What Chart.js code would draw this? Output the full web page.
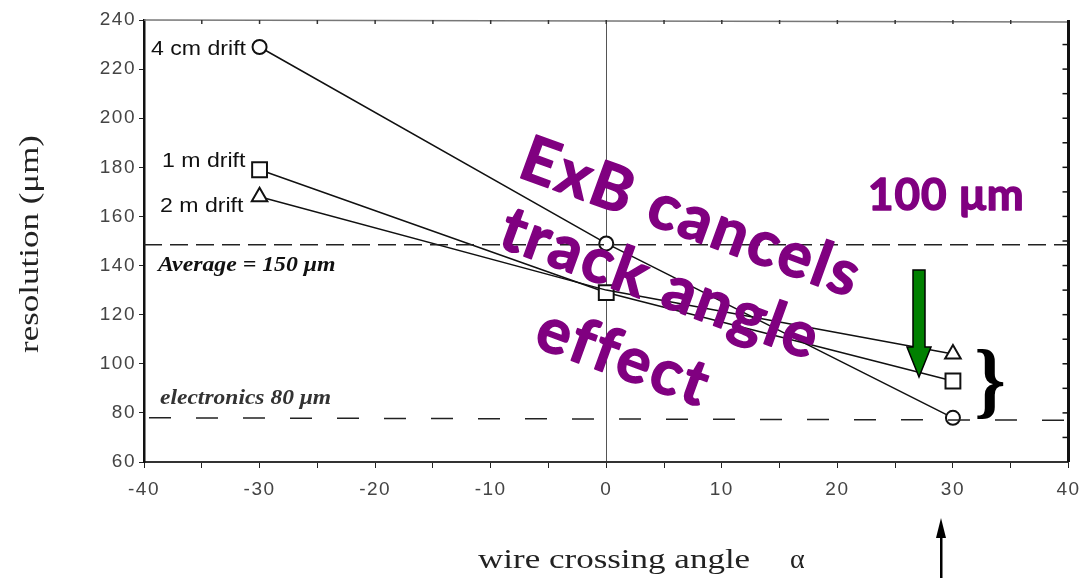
<!DOCTYPE html>
<html>
<head>
<meta charset="utf-8">
<script src="https://cdn.jsdelivr.net/npm/chart.js@4"></script>
<style>
  body { margin: 0; background: #fff; }
  #chart { display: block; }
</style>
</head>
<body>
<canvas id="chart" width="1081" height="578"></canvas>
<script>
// wire crossing angle (deg)
const angles = [-30, 0, 30];
// resolution (um) per drift distance
const res4cm = [229, 149, 78];
const res1m = [179, 129, 93];
const res2m = [168, 130, 104];
const seriesNames = ['4 cm drift', '1 m drift', '2 m drift'];

// reference levels
const averageLevel = 148.5;
const electronicsLevel = [78, 77];
const levelRange = [-40, 40];

const xTicksLabelled = [-40, -30, -20, -10, 0, 10, 20, 30, 40];
const yTicksLabelled = [60, 80, 100, 120, 140, 160, 180, 200, 220, 240];

const toPoints = (xs, ys) => xs.map((x, i) => ({ x: x, y: ys[i] }));

// wide stretched text, the scanned figure has loose lettering
function stretchedText(ctx, text, x, y, sx) {
    ctx.save();
    ctx.translate(x, y);
    ctx.scale(sx, 1);
    ctx.fillText(text, 0, 0);
    ctx.restore();
}

const spacing = {
    id: 'spacing',
    beforeDraw(chart) { chart.ctx.letterSpacing = '1.5px'; },
    afterDatasetsDraw(chart) { chart.ctx.letterSpacing = '0px'; }
};

const annotations = {
    id: 'annotations',
    afterDraw(chart) {
        const ctx = chart.ctx;
        const xs = chart.scales.x, ys = chart.scales.y;
        const area = chart.chartArea;
        ctx.save();
        ctx.letterSpacing = '0px';

        // frame: top and right
        ctx.strokeStyle = '#777';
        ctx.lineWidth = 1.5;
        ctx.beginPath();
        ctx.moveTo(area.left, area.top);
        ctx.lineTo(area.right, area.top + 2);
        ctx.stroke();
        ctx.strokeStyle = '#111';
        ctx.lineWidth = 3;
        ctx.beginPath();
        ctx.moveTo(area.right, area.top);
        ctx.lineTo(area.right, area.bottom);
        ctx.stroke();
        ctx.lineWidth = 1.5;
        for (let v = 70; v < 240; v += 10) {
            const py = ys.getPixelForValue(v);
            ctx.beginPath();
            ctx.moveTo(area.right, py);
            ctx.lineTo(area.right - 6, py);
            ctx.stroke();
        }
        ctx.strokeStyle = '#333';
        for (let v = -35; v < 40; v += 5) {
            const px = xs.getPixelForValue(v);
            ctx.beginPath();
            ctx.moveTo(px, area.top);
            ctx.lineTo(px, area.top + 4);
            ctx.stroke();
        }

        // series labels
        ctx.fillStyle = '#111';
        ctx.font = '21px "Liberation Sans", Arial, sans-serif';
        ctx.textBaseline = 'alphabetic';
        stretchedText(ctx, seriesNames[0], 151, 55, 1.1);
        stretchedText(ctx, seriesNames[1], 162, 167, 1.1);
        stretchedText(ctx, seriesNames[2], 160, 212, 1.1);

        // reference level labels
        ctx.font = 'italic bold 22px "Liberation Serif", serif';
        stretchedText(ctx, 'Average = 150 \u03bcm', 158, 271, 1.08);
        ctx.fillStyle = '#333';
        ctx.font = 'italic bold 21px "Liberation Serif", serif';
        stretchedText(ctx, 'electronics 80 \u03bcm', 160, 404, 1.12);

        // axis titles
        ctx.fillStyle = '#222';
        ctx.font = '28px "Liberation Serif", serif';
        stretchedText(ctx, 'wire crossing angle', 478, 568, 1.25);
        ctx.fillText('\u03b1', 790, 568);
        ctx.save();
        ctx.translate(38, 244);
        ctx.rotate(-Math.PI / 2);
        ctx.scale(1.25, 1);
        ctx.textAlign = 'center';
        ctx.fillText('resolution (\u03bcm)', 0, 0);
        ctx.restore();

        // bracket
        ctx.fillStyle = '#000';
        ctx.font = 'bold 80px "Liberation Serif", serif';
        ctx.save();
        ctx.translate(990, 386);
        ctx.scale(1, 1.05);
        ctx.textAlign = 'center';
        ctx.textBaseline = 'middle';
        ctx.fillText('}', 0, 0);
        ctx.restore();

        // green arrow
        ctx.fillStyle = '#008000';
        ctx.strokeStyle = '#000';
        ctx.lineWidth = 1.5;
        ctx.beginPath();
        ctx.moveTo(913, 270);
        ctx.lineTo(925, 270);
        ctx.lineTo(925, 347);
        ctx.lineTo(931, 347);
        ctx.lineTo(919, 377);
        ctx.lineTo(907, 347);
        ctx.lineTo(913, 347);
        ctx.closePath();
        ctx.fill();
        ctx.stroke();

        // black arrow under axis
        ctx.fillStyle = '#000';
        ctx.beginPath();
        ctx.moveTo(941, 518);
        ctx.lineTo(946, 538);
        ctx.lineTo(936, 538);
        ctx.closePath();
        ctx.fill();
        ctx.fillRect(940, 536, 2.5, 42);

        // purple hand annotations
        ctx.fillStyle = '#800080';
        ctx.strokeStyle = '#800080';
        ctx.lineJoin = 'round';
        ctx.lineWidth = 1.5;
        ctx.letterSpacing = '1px';
        ctx.font = 'bold 44px Lato, "DejaVu Sans", sans-serif';
        ctx.fillText('100 \u03bcm', 868, 210);
        ctx.strokeText('100 \u03bcm', 868, 210);
        ctx.font = 'bold 63px Lato, "DejaVu Sans", sans-serif';
        ctx.letterSpacing = '2.5px';
        const rot = 20 * Math.PI / 180;
        [['ExB cancels', 516, 176], ['track angle', 496, 246], ['effect', 532, 346]].forEach(([t, x, y]) => {
            ctx.save();
            ctx.translate(x, y);
            ctx.rotate(rot);
            ctx.fillText(t, 0, 0);
            ctx.strokeText(t, 0, 0);
            ctx.restore();
        });

        ctx.restore();
    }
};

const lineStyle = {
    borderColor: '#111',
    borderWidth: 1.5,
    pointBackgroundColor: '#fff',
    pointBorderColor: '#111',
    pointBorderWidth: 2,
    tension: 0,
    fill: false
};

new Chart(document.getElementById('chart'), {
    type: 'scatter',
    data: {
        datasets: [
            {
                label: 'Average',
                data: toPoints(levelRange, [averageLevel, averageLevel]),
                showLine: true,
                borderColor: '#222',
                borderWidth: 1.5,
                borderDash: [18, 8],
                pointRadius: 0
            },
            {
                label: 'electronics',
                data: toPoints(levelRange, electronicsLevel),
                showLine: true,
                borderColor: '#222',
                borderWidth: 1.5,
                borderDash: [22, 25],
                borderDashOffset: -5,
                pointRadius: 0
            },
            Object.assign({
                label: seriesNames[2],
                data: toPoints(angles, res2m),
                showLine: true,
                pointStyle: 'triangle',
                pointRadius: [9, 0, 9]
            }, lineStyle),
            Object.assign({
                label: seriesNames[1],
                data: toPoints(angles, res1m),
                showLine: true,
                pointStyle: 'rect',
                pointRadius: 10.5
            }, lineStyle),
            Object.assign({
                label: seriesNames[0],
                data: toPoints(angles, res4cm),
                showLine: true,
                pointStyle: 'circle',
                pointRadius: 7
            }, lineStyle)
        ]
    },
    options: {
        responsive: false,
        animation: false,
        devicePixelRatio: 1,
        layout: { padding: { top: 20, right: 9, left: 0, bottom: 0 } },
        plugins: {
            legend: { display: false },
            tooltip: { enabled: false }
        },
        scales: {
            x: {
                type: 'linear',
                min: -40,
                max: 40,
                afterFit: s => { s.height = 116; s.paddingRight = 0; s.paddingLeft = 0; },
                border: { display: true, color: '#333', width: 2 },
                grid: {
                    drawOnChartArea: true,
                    color: c => (c.tick && c.tick.value === 0) ? '#555' : 'rgba(0,0,0,0)',
                    lineWidth: 1,
                    tickColor: '#222',
                    tickLength: 6
                },
                ticks: {
                    stepSize: 5,
                    color: '#444',
                    padding: 10,
                    maxRotation: 0,
                    font: { family: '"Liberation Sans", Arial, sans-serif', size: 19 },
                    callback: v => xTicksLabelled.includes(v) ? String(v) : ''
                }
            },
            y: {
                type: 'linear',
                min: 60,
                max: 240,
                afterFit: s => { s.width = 144; s.paddingTop = 0; s.paddingBottom = 0; },
                border: { display: true, color: '#111', width: 2.5 },
                grid: {
                    drawOnChartArea: false,
                    tickColor: '#222',
                    tickLength: 5
                },
                ticks: {
                    stepSize: 10,
                    color: '#444',
                    padding: 3,
                    font: { family: '"Liberation Sans", Arial, sans-serif', size: 19 },
                    callback: v => yTicksLabelled.includes(v) ? String(v) : ''
                }
            }
        }
    },
    plugins: [spacing, annotations]
});
</script>
</body>
</html>
